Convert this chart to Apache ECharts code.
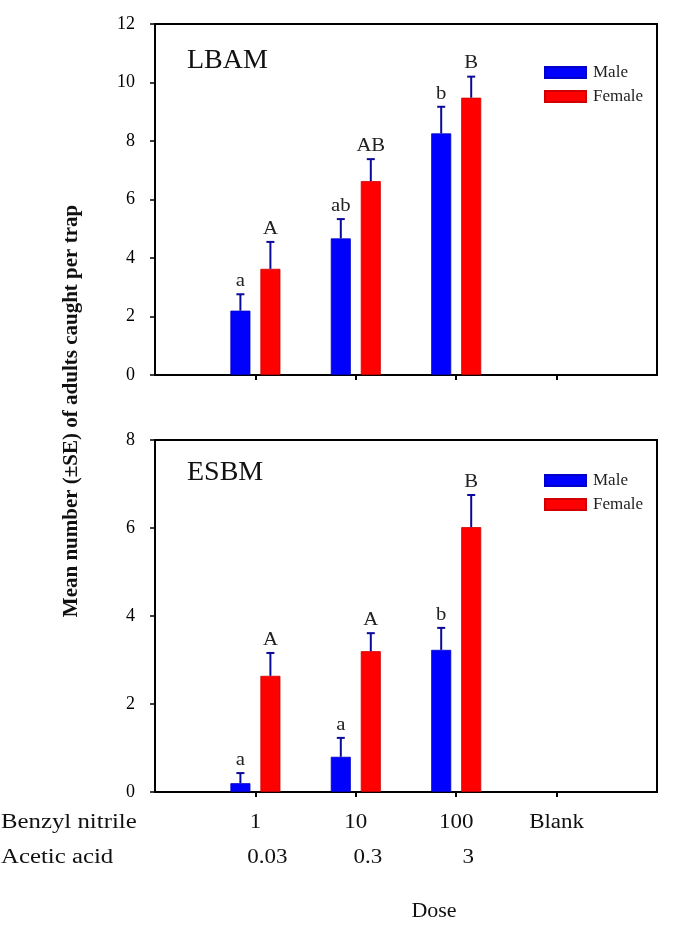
<!DOCTYPE html>
<html><head><meta charset="utf-8">
<script src="https://cdn.jsdelivr.net/npm/echarts@6/dist/echarts.min.js"></script>
<style>html,body{margin:0;padding:0;background:#fff}#c{width:675px;height:926px}</style>
</head><body><div id="c"></div>
<script>
// ---- data ----
const doseCategories = ['1', '10', '100', 'Blank'];
const aceticLabels = ['0.03', '0.3', '3', ''];
const lbamMale = [2.2, 4.67, 8.26, null];
const lbamMaleSE = [0.56, 0.66, 0.91, null];
const lbamFemale = [3.63, 6.63, 9.48, null];
const lbamFemaleSE = [0.92, 0.75, 0.72, null];
const lbamMaleLetters = ['a', 'ab', 'b', ''];
const lbamFemaleLetters = ['A', 'AB', 'B', ''];
const esbmMale = [0.2, 0.8, 3.23, null];
const esbmMaleSE = [0.23, 0.43, 0.5, null];
const esbmFemale = [2.64, 3.2, 6.02, null];
const esbmFemaleSE = [0.52, 0.41, 0.73, null];
const esbmMaleLetters = ['a', 'a', 'b', ''];
const esbmFemaleLetters = ['A', 'A', 'B', ''];
const topTicks = [0, 2, 4, 6, 8, 10, 12];
const bottomTicks = [0, 2, 4, 6, 8];

// ---- style ----
const FONT = '"Liberation Serif", "Times New Roman", serif';
const BLUE = '#0000ff', RED = '#ff0000', ERR = '#0a0a9a';
const BAR_W = 20, BAR_GAP = 10;

const axisCats = [''].concat(doseCategories, ['']);
const pad = arr => [null].concat(arr, [null]);

function errData(vals, ses, letters) {
  return vals.map((v, i) => [i + 1, v, ses[i], letters[i]]);
}
function errRender(dataArr, side) {
  return function (params, api) {
    const d = dataArr[params.dataIndex];
    if (d[1] == null) return;
    const base = api.coord([d[0], d[1]]);
    const top = api.coord([d[0], d[1] + d[2]]);
    const x = base[0] + side * (BAR_W + BAR_GAP) / 2;
    return {
      type: 'group',
      children: [
        { type: 'line', shape: { x1: x, y1: base[1], x2: x, y2: top[1] }, style: { stroke: ERR, lineWidth: 2 } },
        { type: 'line', shape: { x1: x - 4, y1: top[1], x2: x + 4, y2: top[1] }, style: { stroke: ERR, lineWidth: 2 } },
        { type: 'text', x: x, y: top[1] - 4, scaleX: 1.15,
          style: { text: d[3], x: 0, y: 0, align: 'center', verticalAlign: 'bottom',
                   font: '18px ' + FONT, fill: '#222' } }
      ]
    };
  };
}

const lbamMErr = errData(lbamMale, lbamMaleSE, lbamMaleLetters);
const lbamFErr = errData(lbamFemale, lbamFemaleSE, lbamFemaleLetters);
const esbmMErr = errData(esbmMale, esbmMaleSE, esbmMaleLetters);
const esbmFErr = errData(esbmFemale, esbmFemaleSE, esbmFemaleLetters);

function xAxisCfg(gridIndex) {
  return {
    type: 'category', gridIndex, data: axisCats, boundaryGap: false,
    axisLine: { show: true, lineStyle: { color: '#000', width: 2 } },
    axisTick: { show: true, inside: false, length: 5, lineStyle: { color: '#000', width: 2 },
                interval: (idx) => idx > 0 && idx < axisCats.length - 1 },
    axisLabel: { show: false }, splitLine: { show: false }
  };
}
function yAxisCfg(gridIndex, ticks) {
  return {
    type: 'value', gridIndex, min: ticks[0], max: ticks[ticks.length - 1], interval: ticks[1] - ticks[0],
    axisLine: { show: true, lineStyle: { color: '#000', width: 2 } },
    axisTick: { show: true, inside: false, length: 5, lineStyle: { color: '#000', width: 1.5 } },
    axisLabel: { fontFamily: FONT, fontSize: 18, color: '#000', margin: 20 },
    splitLine: { show: false }
  };
}
function legendCfg(top) {
  return {
    data: ['Male', 'Female'], orient: 'vertical', left: 539, top: top, icon: 'rect',
    itemWidth: 41, itemHeight: 11, itemGap: 7, selectedMode: false,
    textStyle: { fontFamily: FONT, fontSize: 17, color: '#222', padding: [0, 0, 0, 2] }
  };
}
function barSeries(name, data, color, xi, yi) {
  return { type: 'bar', name, data: pad(data), xAxisIndex: xi, yAxisIndex: yi,
           barWidth: BAR_W, barGap: (BAR_GAP / BAR_W * 100) + '%',
           itemStyle: { color: color, borderColor: color === BLUE ? '#0000c8' : '#d00000', borderWidth: 0.8 } };
}
function errSeries(arr, side, xi, yi) {
  return { type: 'custom', data: arr, xAxisIndex: xi, yAxisIndex: yi, renderItem: errRender(arr, side),
           encode: { x: 0, y: 1 }, z: 5, silent: true };
}

const chart = echarts.init(document.getElementById('c'), null, { renderer: 'canvas' });
const option = {
  animation: false,
  backgroundColor: '#fff',
  grid: [
    { left: 155, top: 24, width: 502, height: 351, show: true, borderColor: '#000', borderWidth: 2, outerBoundsMode: 'none' },
    { left: 155, top: 440, width: 502, height: 352, show: true, borderColor: '#000', borderWidth: 2, outerBoundsMode: 'none' }
  ],
  xAxis: [xAxisCfg(0), xAxisCfg(1)],
  yAxis: [yAxisCfg(0, topTicks), yAxisCfg(1, bottomTicks)],
  legend: [legendCfg(59), legendCfg(467)],
  series: [
    barSeries('Male', lbamMale, BLUE, 0, 0),
    barSeries('Female', lbamFemale, RED, 0, 0),
    errSeries(lbamMErr, -1, 0, 0),
    errSeries(lbamFErr, 1, 0, 0),
    barSeries('Male', esbmMale, BLUE, 1, 1),
    barSeries('Female', esbmFemale, RED, 1, 1),
    errSeries(esbmMErr, -1, 1, 1),
    errSeries(esbmFErr, 1, 1, 1)
  ]
};
chart.setOption(option);

// ---- texts outside plot areas ----
const g = [];
const txt = (text, x, y, font, align, sx, extra) => Object.assign({
  type: 'text', x: x, y: y, scaleX: sx || 1,
  style: { text, x: 0, y: 0, font, fill: '#111', align: align || 'center', verticalAlign: 'middle' }
}, extra || {});
g.push(txt('LBAM', 187, 61, '28px ' + FONT, 'left'));
g.push(txt('ESBM', 187, 473, '28px ' + FONT, 'left'));
g.push(txt('Mean number (\u00b1SE) of adults caught per trap', 72, 411, 'bold 21px ' + FONT, 'center', 1, { rotation: Math.PI / 2 }));
g.push(txt('Benzyl nitrile', 1, 823, '20px ' + FONT, 'left', 1.24));
g.push(txt('Acetic acid', 1, 858, '20px ' + FONT, 'left', 1.24));
doseCategories.forEach((c, i) => {
  const px = chart.convertToPixel({ xAxisIndex: 1 }, i + 1);
  g.push(txt(c, px, 823, '20px ' + FONT, 'center', 1.15));
  if (aceticLabels[i]) g.push(txt(aceticLabels[i], px + 12, 858, '20px ' + FONT, 'center', 1.15));
});
g.push(txt('Dose', 434, 912, '20px ' + FONT, 'center', 1.1));
chart.setOption({ graphic: g });
</script></body></html>
